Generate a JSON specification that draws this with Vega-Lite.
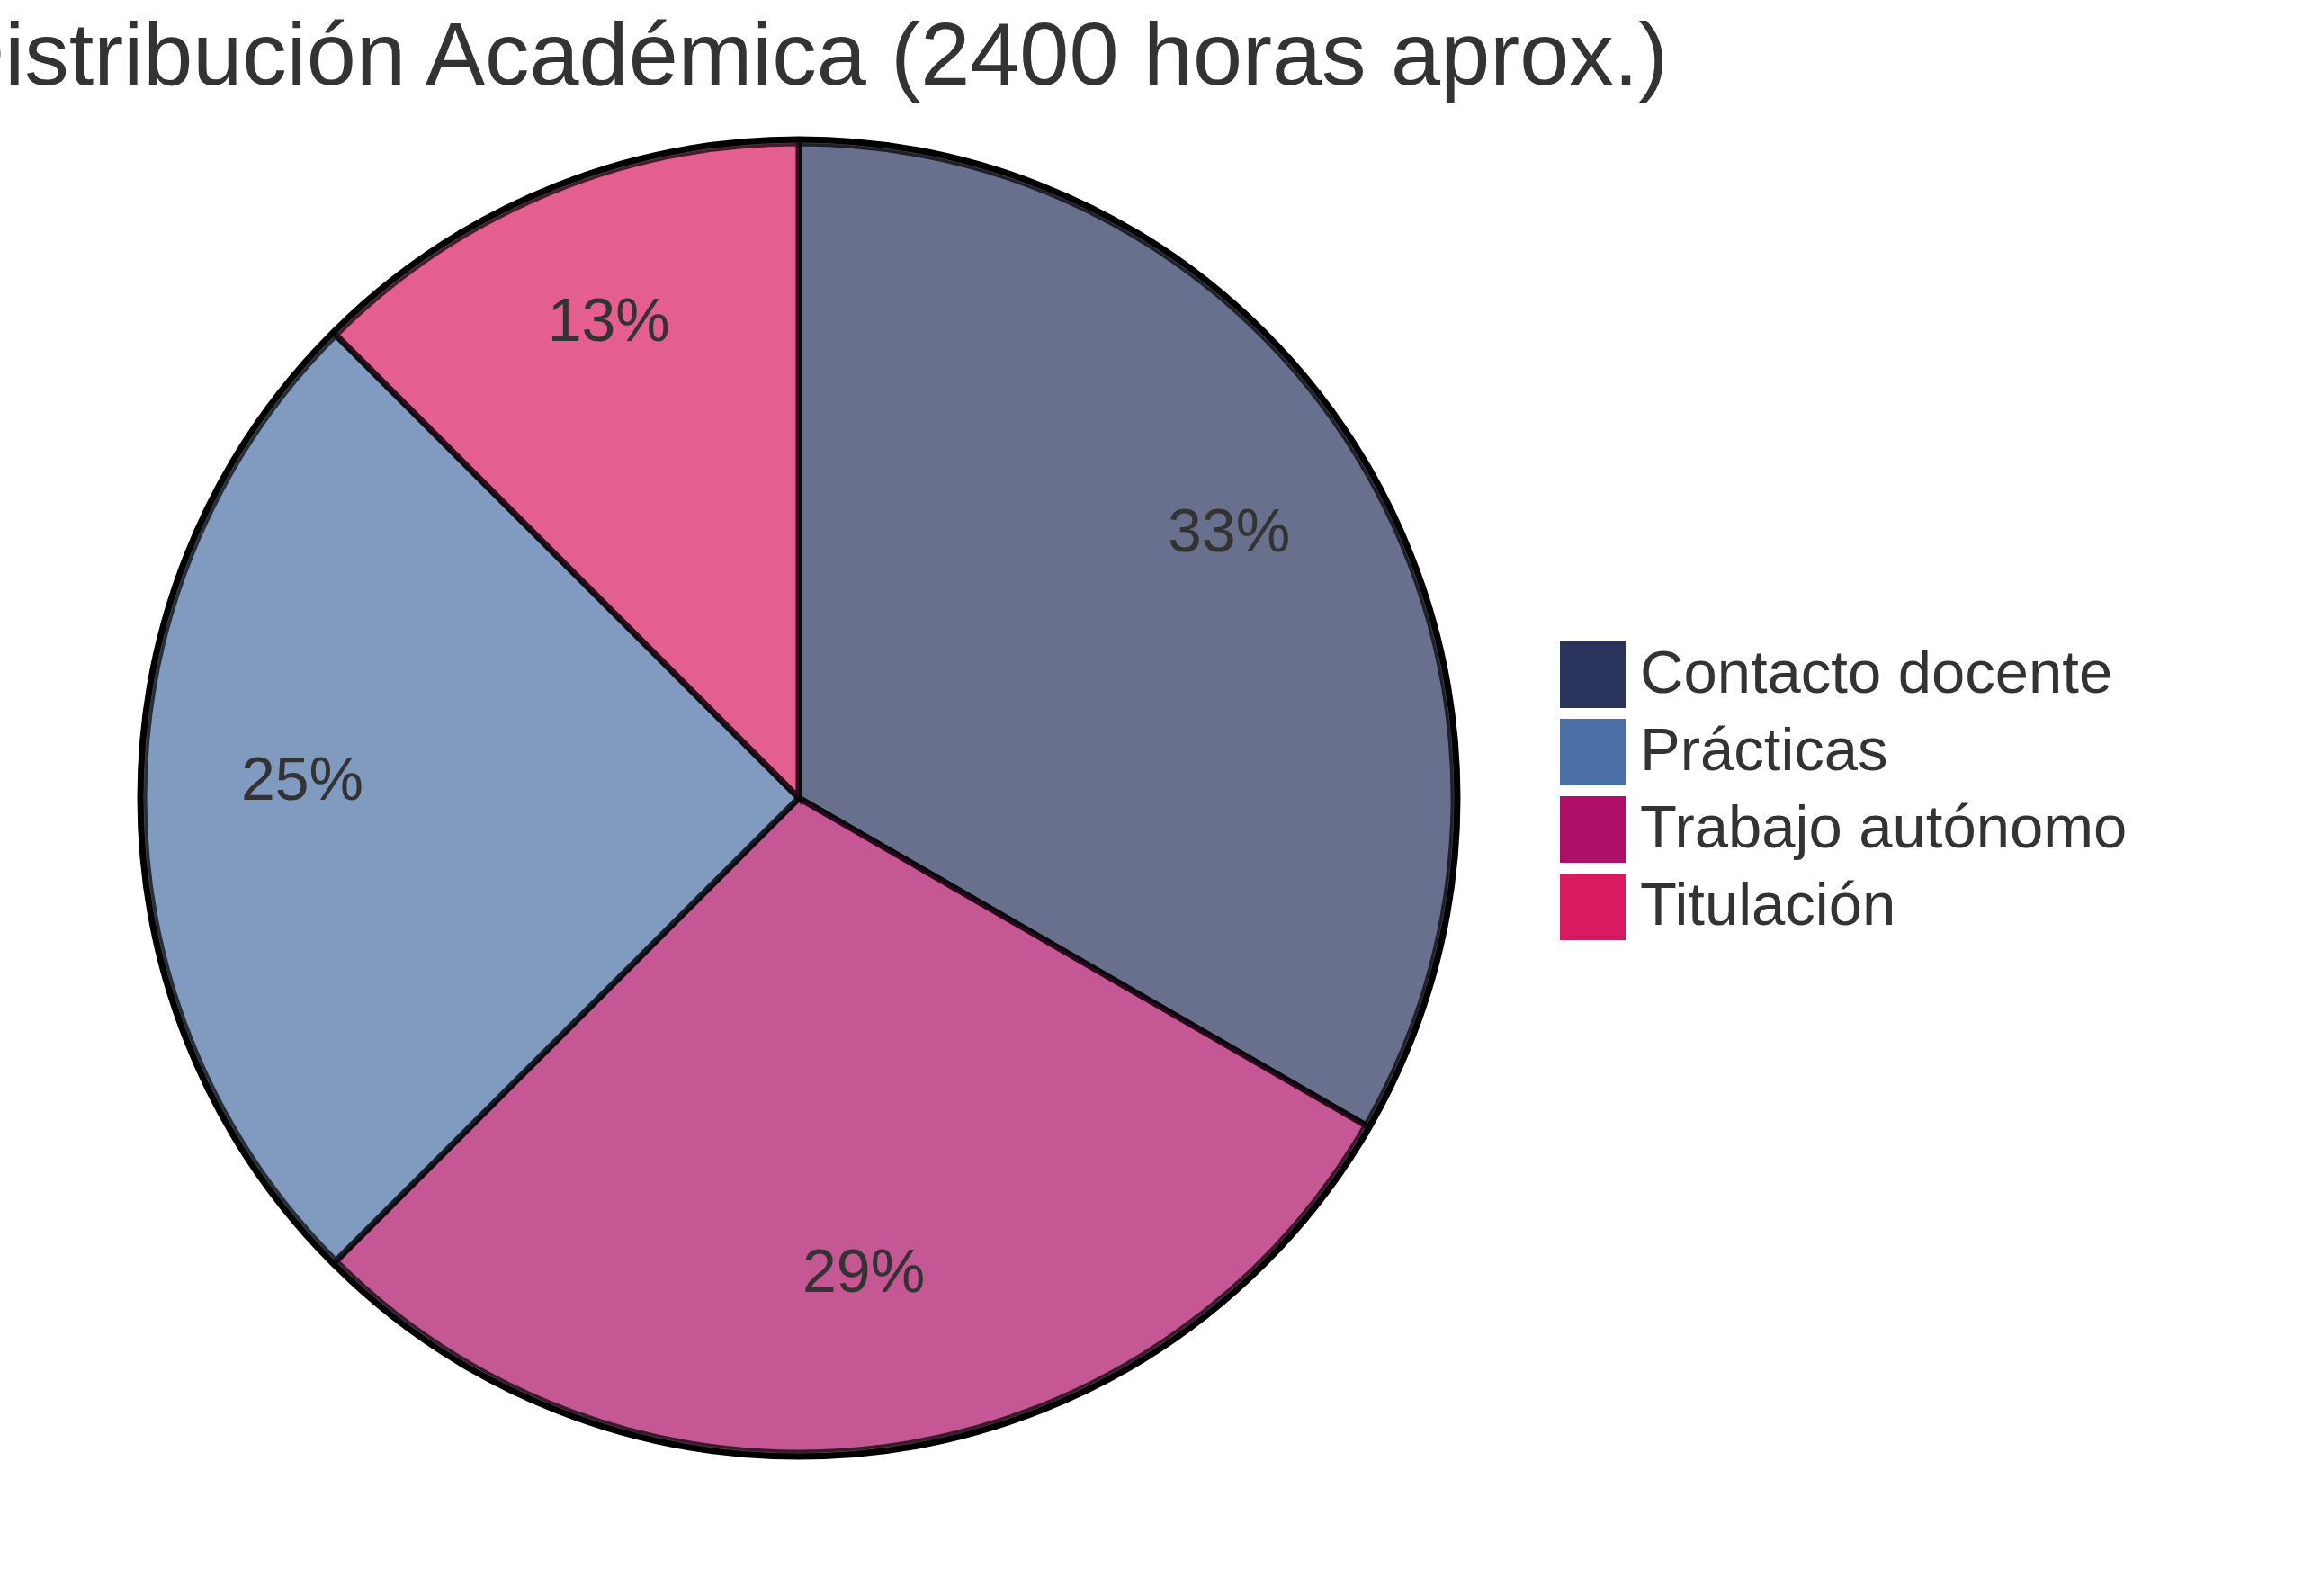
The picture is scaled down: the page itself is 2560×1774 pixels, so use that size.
{
  "$schema": "https://vega.github.io/schema/vega-lite/v6.json",
  "autosize": {"type": "none"},
  "padding": {"left": 153, "top": 152, "right": 937, "bottom": 152},
  "width": 1470,
  "height": 1470,
  "background": "white",
  "title": {
    "text": "Distribución Académica (2400 horas aprox.)",
    "anchor": "middle",
    "font": "Liberation Sans",
    "fontSize": 99,
    "fontWeight": "normal",
    "color": "#333333",
    "baseline": "alphabetic",
    "offset": 54,
    "dy": 106,
    "dx": 6
  },
  "data": {
    "values": [
      {"categoria": "Contacto docente", "horas": 800, "orden": 1, "etiqueta": "33%"},
      {"categoria": "Trabajo autónomo", "horas": 700, "orden": 2, "etiqueta": "29%"},
      {"categoria": "Prácticas", "horas": 600, "orden": 3, "etiqueta": "25%"},
      {"categoria": "Titulación", "horas": 300, "orden": 4, "etiqueta": "13%"}
    ]
  },
  "layer": [
    {
      "mark": {"type": "arc", "radius": 728, "fillOpacity": 0.7, "stroke": "#000000", "strokeWidth": 7, "strokeOpacity": 0.7},
      "encoding": {
        "theta": {"field": "horas", "type": "quantitative", "stack": true},
        "order": {"field": "orden", "type": "quantitative"},
        "color": {
          "field": "categoria",
          "type": "nominal",
          "scale": {
            "domain": ["Contacto docente", "Prácticas", "Trabajo autónomo", "Titulación"],
            "range": ["#29335c", "#4a6fa5", "#ad1066", "#d81b60"]
          },
          "legend": {
            "title": null,
            "orient": "none",
            "legendX": 1580,
            "legendY": 560,
            "padding": 0,
            "symbolType": "square",
            "symbolSize": 5625,
            "symbolOpacity": 1,
            "symbolFillOpacity": 1,
            "symbolStrokeColor": "#ffffff",
            "symbolStrokeWidth": 1,
            "labelFont": "Liberation Sans",
            "labelFontSize": 67,
            "labelColor": "#333333",
            "labelOffset": 14,
            "labelLimit": 800,
            "rowPadding": 6
          }
        }
      }
    },
    {
      "mark": {"type": "text", "radius": 552, "dy": -18, "font": "Liberation Sans", "fontSize": 68, "color": "#333333"},
      "encoding": {
        "theta": {"field": "horas", "type": "quantitative", "stack": true},
        "order": {"field": "orden", "type": "quantitative"},
        "text": {"field": "etiqueta", "type": "nominal"}
      }
    },
    {
      "data": {"values": [{"borde": "exterior"}]},
      "mark": {"type": "arc", "theta": 0, "theta2": 6.2832, "radius": 732, "fill": null, "fillOpacity": 0, "stroke": "#000000", "strokeWidth": 7},
      "encoding": {}
    }
  ],
  "config": {"view": {"stroke": null}}
}
